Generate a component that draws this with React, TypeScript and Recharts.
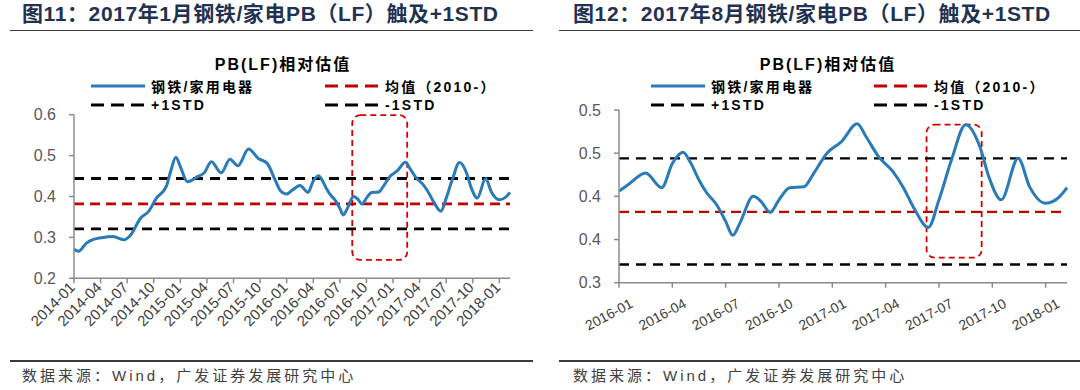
import { LineChart, Line, XAxis, YAxis, ReferenceLine, ReferenceArea } from 'recharts';

// months since 2014-01, and the steel / home appliance PB(LF) ratio
const obsMonth = [
  0, 0.5, 1.4, 2.2, 3.1, 4.4, 5.6, 6.4, 7.5, 8.4, 9.3, 10.4, 10.9, 11.5, 12.0, 12.8, 13.9, 14.7, 15.5, 16.6,
  17.6, 18.5, 19.7, 20.8, 21.8, 22.7, 23.3, 24.0, 24.6, 25.5, 26.4, 27.0, 27.6, 28.0, 28.5, 28.9, 29.5, 30.0,
  30.4, 30.8, 31.55, 32.0, 32.5, 33.0, 33.6, 34.4, 34.9, 35.7, 36.5, 37.4, 37.9, 38.6, 39.4, 40.0, 40.6, 41.4,
  42.0, 42.7, 43.5, 44.3, 44.8, 45.5, 46.45, 47.1, 48.0, 48.8, 49.2,
];
const pbRelative = [
  0.271, 0.266, 0.286, 0.295, 0.299, 0.302, 0.294, 0.306, 0.347, 0.363, 0.396, 0.424, 0.461, 0.496, 0.473, 0.436,
  0.448, 0.458, 0.485, 0.458, 0.491, 0.475, 0.516, 0.493, 0.481, 0.44, 0.414, 0.406, 0.415, 0.427, 0.41, 0.438,
  0.451, 0.44, 0.419, 0.405, 0.39, 0.371, 0.355, 0.369, 0.4, 0.394, 0.3815, 0.396, 0.41, 0.411, 0.425, 0.45,
  0.463, 0.484, 0.469, 0.446, 0.429, 0.41, 0.386, 0.364, 0.396, 0.442, 0.483, 0.4575, 0.423, 0.396, 0.444,
  0.411, 0.392, 0.4, 0.41,
];

const quarterLabels = [
  '2014-01', '2014-04', '2014-07', '2014-10', '2015-01', '2015-04', '2015-07', '2015-10', '2016-01',
  '2016-04', '2016-07', '2016-10', '2017-01', '2017-04', '2017-07', '2017-10', '2018-01',
];
const quarterTicks = quarterLabels.map((_, i) => i * 3);

const leftYTicks = [0.2, 0.3, 0.4, 0.5, 0.6];
const rightYTicks = [0.3, 0.35, 0.4, 0.45, 0.5];
const rightYTickLabels = ['0.3', '0.4', '0.4', '0.5', '0.5'];

const meanLevel = 0.382;
const plusStd = 0.444;
const minusStd = 0.321;

// highlighted windows: [from month, to month, low, high]
const boxJan2017 = [31.4, 37.6, 0.245, 0.599];
const boxAug2017 = [41.3, 44.4, 0.329, 0.483];

const rows = obsMonth.map((m, i) => ({ m, pb: pbRelative[i] }));

const BLUE = '#2a7ab8';
const RED = '#c00000';
const MIXED = "'Liberation Sans', 'Noto Sans CJK SC', sans-serif";
const ARIAL = "'Liberation Sans', Arial, sans-serif";

const legendItems = [
  { name: '钢铁/家用电器', color: BLUE, dash: '' },
  { name: '均值（2010-）', color: RED, dash: '13 7' },
  { name: '+1STD', color: '#000', dash: '13 7' },
  { name: '-1STD', color: '#000', dash: '13 7' },
];

function LegendBlock({ cx, x1, x2, yTitle, yRows }: { cx: number; x1: number; x2: number; yTitle: number; yRows: number[] }) {
  return (
    <>
      <div style={{ position: 'absolute', left: cx - 100, width: 200, top: yTitle - 10, lineHeight: '20px', textAlign: 'center', fontFamily: MIXED, fontWeight: 700, fontSize: 16, letterSpacing: 2, color: '#000' }}>
        PB(LF)相对估值
      </div>
      {legendItems.map((it, i) => {
        const x = i % 2 === 0 ? x1 : x2;
        const y = yRows[Math.floor(i / 2)];
        return (
          <div key={it.name} style={{ position: 'absolute', left: x, top: y - 9, height: 18, display: 'flex', alignItems: 'center' }}>
            <svg width={54} height={6} style={{ display: 'block' }}>
              <line x1={0} y1={3} x2={54} y2={3} stroke={it.color} strokeWidth={3} strokeDasharray={it.dash || undefined} />
            </svg>
            <span style={{ marginLeft: 6, fontFamily: MIXED, fontWeight: 700, fontSize: 14, letterSpacing: 2.2, color: '#000', whiteSpace: 'nowrap' }}>{it.name}</span>
          </div>
        );
      })}
    </>
  );
}

function makeXTick(angle: number, dx: number, dy: number, size: number) {
  return (props: any) => {
    const { x, y, payload } = props;
    const tx = x + dx;
    const ty = y + dy;
    return (
      <text x={tx} y={ty} transform={`rotate(${angle} ${tx} ${ty})`} textAnchor="end" fontSize={size} fill="#404040" fontFamily={ARIAL}>
        {quarterLabels[Math.round(payload.value / 3)]}
      </text>
    );
  };
}

function roundedBox(props: any) {
  const { x, y, width, height } = props;
  return <rect x={x} y={y} width={width} height={height} rx={8} ry={8} fill="none" stroke="#d40000" strokeWidth={1.8} strokeDasharray="6 4" />;
}

function Panel(p: {
  left: number;
  title: string;
  titleX: number;
  ruleX: number;
  ruleW: number;
  legend: { cx: number; x1: number; x2: number };
  data: { m: number; pb: number }[];
  xDomain: [number, number];
  xTicks: number[];
  yDomain: [number, number];
  yTicks: number[];
  yFormat: (v: number, i: number) => string;
  yAxisW: number;
  top: number;
  right: number;
  xAxisH: number;
  angle: number;
  tickDx: number;
  tickDy: number;
  tickSize: number;
  box: number[];
  lineW: number;
}) {
  const axisStyle = { stroke: '#8c8c8c', strokeWidth: 1.5 };
  return (
    <div style={{ position: 'absolute', left: p.left, top: 0, width: 540, height: 390 }}>
      <div style={{ position: 'absolute', left: p.titleX, top: 2, lineHeight: '24px', fontFamily: MIXED, fontWeight: 700, fontSize: 21, letterSpacing: 0.6, color: '#1f3252', whiteSpace: 'nowrap' }}>
        {p.title}
      </div>
      <div style={{ position: 'absolute', left: p.ruleX, width: p.ruleW, top: 29.5, height: 1.5, background: '#3a3a3a' }} />
      <LegendBlock cx={p.legend.cx} x1={p.legend.x1} x2={p.legend.x2} yTitle={65} yRows={[86, 105]} />
      <div style={{ position: 'absolute', left: 0, top: 0 }}>
        <LineChart width={540} height={390} data={p.data} margin={{ top: p.top, right: p.right, bottom: 0, left: 0 }}>
          <XAxis
            type="number"
            dataKey="m"
            domain={p.xDomain}
            ticks={p.xTicks}
            interval={0}
            height={p.xAxisH}
            axisLine={axisStyle}
            tickLine={axisStyle}
            tickSize={5}
            tick={makeXTick(p.angle, p.tickDx, p.tickDy, p.tickSize)}
          />
          <YAxis
            type="number"
            domain={p.yDomain}
            ticks={p.yTicks}
            interval={0}
            width={p.yAxisW}
            axisLine={axisStyle}
            tickLine={axisStyle}
            tickSize={5}
            tickMargin={13}
            tickFormatter={p.yFormat}
            tick={{ fontSize: 16, fill: '#595959', fontFamily: ARIAL }}
          />
          <ReferenceLine y={plusStd} stroke="#000" strokeWidth={p.lineW} strokeDasharray="10 7" />
          <ReferenceLine y={minusStd} stroke="#000" strokeWidth={p.lineW} strokeDasharray="10 7" />
          <ReferenceLine y={meanLevel} stroke={RED} strokeWidth={p.lineW} strokeDasharray="10 6" />
          <Line type="monotone" dataKey="pb" stroke={BLUE} strokeWidth={3} dot={false} activeDot={false} isAnimationActive={false} />
          <ReferenceArea x1={p.box[0]} x2={p.box[1]} y1={p.box[2]} y2={p.box[3]} shape={roundedBox} />
        </LineChart>
      </div>
      <div style={{ position: 'absolute', left: p.ruleX, width: p.ruleW, top: 360, height: 1.5, background: '#3a3a3a' }} />
      <div style={{ position: 'absolute', left: p.titleX, top: 366, lineHeight: '20px', fontFamily: MIXED, fontSize: 15, letterSpacing: 3, color: '#404040', whiteSpace: 'nowrap' }}>
        数据来源：Wind，广发证券发展研究中心
      </div>
    </div>
  );
}

export default function App() {
  return (
    <div style={{ position: 'absolute', left: 0, top: 0, width: 1080, height: 390, background: '#fff', overflow: 'hidden' }}>
      <Panel
        left={0}
        title="图11：2017年1月钢铁/家电PB（LF）触及+1STD"
        titleX={22}
        ruleX={10}
        ruleW={523}
        legend={{ cx: 283, x1: 91, x2: 325 }}
        data={rows}
        xDomain={[0, 49.2]}
        xTicks={quarterTicks}
        yDomain={[0.2, 0.6]}
        yTicks={leftYTicks}
        yFormat={(v) => v.toFixed(1)}
        yAxisW={74}
        top={114.7}
        right={30}
        xAxisH={111.7}
        angle={-45}
        tickDx={2}
        tickDy={3}
        tickSize={15}
        box={boxJan2017}
        lineW={2.8}
      />
      <Panel
        left={540}
        title="图12：2017年8月钢铁/家电PB（LF）触及+1STD"
        titleX={33}
        ruleX={19}
        ruleW={521}
        legend={{ cx: 288, x1: 111, x2: 334 }}
        data={rows.filter((r) => r.m >= 24)}
        xDomain={[24, 49.2]}
        xTicks={quarterTicks.filter((t) => t >= 24)}
        yDomain={[0.3, 0.5]}
        yTicks={rightYTicks}
        yFormat={(v) => rightYTickLabels[rightYTicks.indexOf(v)] ?? String(v)}
        yAxisW={79}
        top={110}
        right={13}
        xAxisH={107.3}
        angle={-28}
        tickDx={15}
        tickDy={17}
        tickSize={14}
        box={boxAug2017}
        lineW={2.4}
      />
    </div>
  );
}
